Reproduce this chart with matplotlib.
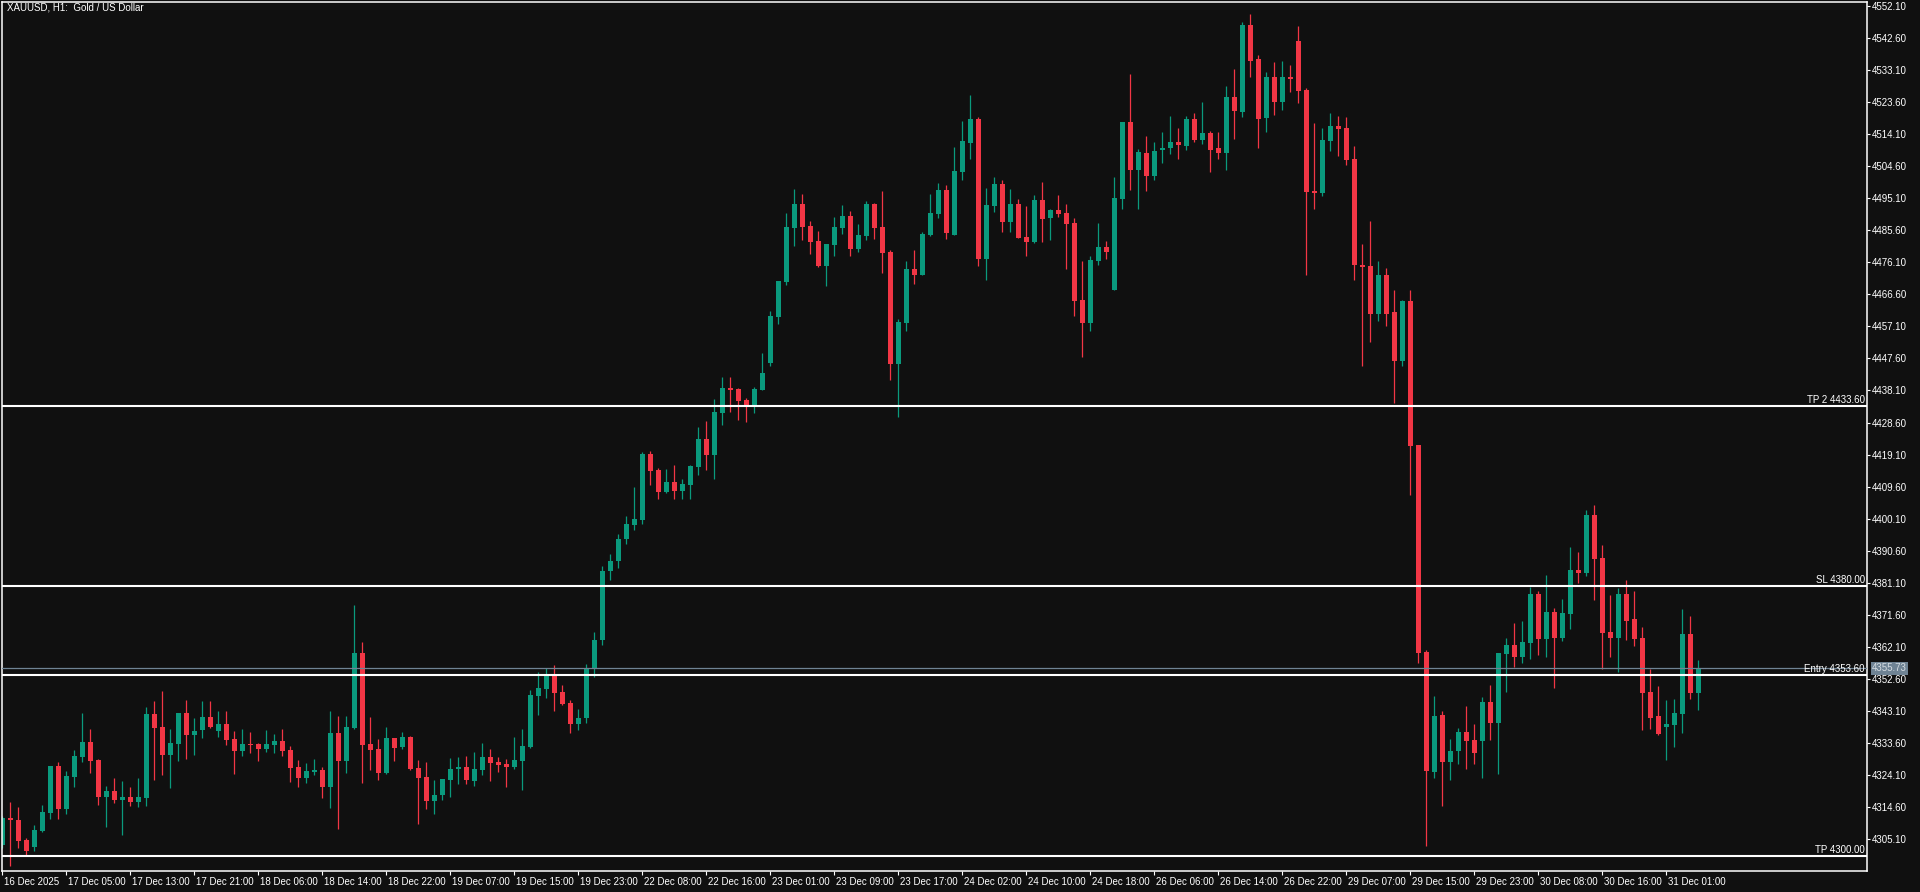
import matplotlib
matplotlib.use("Agg")
from matplotlib import pyplot as plt
from matplotlib.transforms import ScaledTranslation, blended_transform_factory
import numpy as np

# XAUUSD H1 candles (16 Dec 2025 - 31 Dec 2025)
opens = [
	4303.3, 4311.3, 4310.7, 4304.8, 4302.7, 4307.5, 4312.8, 4326.8, 4314.0, 4323.5,
	4329.4, 4333.9, 4328.5, 4317.6, 4319.3, 4316.7, 4317.6, 4316.1, 4317.3, 4342.2,
	4338.3, 4330.0, 4333.3, 4342.5, 4335.9, 4337.4, 4341.3, 4337.1, 4339.2, 4334.8,
	4331.2, 4333.3, 4333.3, 4331.8, 4333.0, 4334.2, 4331.5, 4326.5, 4323.2, 4324.9,
	4325.6, 4320.5, 4336.5, 4328.2, 4338.0, 4360.3, 4333.3, 4331.8, 4324.7, 4335.1,
	4332.4, 4335.4, 4326.2, 4323.5, 4316.4, 4318.0, 4322.6, 4325.9, 4326.5, 4322.3,
	4325.6, 4329.4, 4328.0, 4327.4, 4326.5, 4328.3, 4332.4, 4347.5, 4349.6, 4353.5,
	4348.7, 4345.4, 4339.2, 4341.0, 4355.5, 4364.0, 4384.5, 4387.5, 4394.0, 4398.2,
	4399.7, 4419.3, 4414.5, 4408.0, 4411.0, 4408.3, 4410.1, 4415.4, 4423.7, 4419.0,
	4431.4, 4438.8, 4438.5, 4435.3, 4433.8, 4438.2, 4446.3, 4459.9, 4470.3, 4486.3,
	4493.4, 4486.9, 4482.4, 4475.0, 4481.2, 4486.3, 4489.8, 4480.0, 4483.9, 4493.4,
	4486.6, 4479.2, 4446.0, 4458.1, 4474.1, 4472.4, 4484.2, 4490.4, 4497.5, 4484.2,
	4502.9, 4511.5, 4518.6, 4477.1, 4492.8, 4499.3, 4488.1, 4493.4, 4483.6, 4482.1,
	4494.6, 4489.3, 4491.6, 4490.7, 4487.8, 4464.9, 4458.1, 4476.5, 4480.7, 4467.9,
	4494.9, 4517.7, 4503.5, 4508.6, 4501.8, 4509.5, 4509.9, 4511.9, 4510.7, 4518.7,
	4512.5, 4514.5, 4509.9, 4508.6, 4525.1, 4520.7, 4546.5, 4536.5, 4518.9, 4531.1,
	4523.7, 4531.1, 4541.7, 4527.3, 4497.4, 4496.8, 4512.2, 4516.6, 4515.8, 4506.6,
	4475.2, 4474.9, 4460.9, 4472.3, 4461.3, 4446.8, 4464.6, 4421.9, 4360.6, 4325.0,
	4341.9, 4327.9, 4331.2, 4336.9, 4334.5, 4334.2, 4345.7, 4339.5, 4360.0, 4362.6,
	4359.1, 4363.2, 4377.8, 4364.4, 4372.4, 4364.7, 4371.8, 4384.9, 4384.0, 4401.2,
	4388.4, 4366.5, 4364.7, 4377.8, 4370.4, 4364.7, 4348.7, 4341.6, 4338.2, 4338.9,
	4342.2, 4365.9, 4348.4,
]
highs = [
	4312.0, 4316.1, 4314.6, 4305.4, 4309.3, 4315.2, 4326.8, 4327.9, 4325.3, 4331.5,
	4342.5, 4337.7, 4328.8, 4320.8, 4323.2, 4322.3, 4320.5, 4323.2, 4344.3, 4346.0,
	4349.0, 4337.7, 4342.5, 4346.3, 4341.0, 4346.0, 4346.0, 4343.1, 4343.1, 4337.1,
	4337.7, 4336.8, 4333.6, 4337.4, 4336.2, 4337.7, 4332.7, 4328.6, 4327.7, 4328.9,
	4326.5, 4343.1, 4341.6, 4341.6, 4374.5, 4363.5, 4341.3, 4334.8, 4338.3, 4335.1,
	4336.8, 4335.7, 4328.6, 4328.0, 4322.6, 4322.9, 4329.2, 4329.5, 4329.7, 4330.9,
	4333.6, 4331.8, 4329.4, 4328.9, 4335.4, 4337.7, 4349.3, 4354.6, 4355.8, 4356.7,
	4350.8, 4346.3, 4343.5, 4357.0, 4366.5, 4386.0, 4389.5, 4395.5, 4400.9, 4409.5,
	4419.9, 4420.2, 4415.1, 4414.8, 4416.0, 4411.9, 4416.0, 4427.3, 4429.1, 4435.6,
	4442.1, 4442.1, 4438.8, 4435.9, 4439.1, 4449.2, 4461.7, 4470.6, 4490.7, 4497.8,
	4496.4, 4488.4, 4485.4, 4481.5, 4489.5, 4493.1, 4491.3, 4487.5, 4494.3, 4493.7,
	4497.3, 4479.8, 4459.3, 4476.5, 4479.8, 4485.1, 4496.4, 4499.6, 4499.0, 4510.3,
	4518.0, 4525.7, 4519.2, 4498.1, 4501.4, 4500.5, 4497.8, 4494.9, 4492.8, 4496.1,
	4499.9, 4491.9, 4496.1, 4493.4, 4489.3, 4476.5, 4478.0, 4487.8, 4482.4, 4501.4,
	4517.7, 4532.0, 4509.7, 4513.7, 4511.9, 4514.8, 4519.6, 4515.8, 4519.6, 4520.4,
	4523.7, 4515.1, 4514.8, 4528.4, 4533.5, 4547.3, 4549.8, 4537.5, 4532.5, 4535.5,
	4535.8, 4534.7, 4546.2, 4527.8, 4517.4, 4515.8, 4520.4, 4519.6, 4519.2, 4510.7,
	4481.6, 4488.5, 4476.4, 4474.4, 4467.8, 4464.9, 4467.8, 4421.9, 4361.0, 4347.5,
	4343.1, 4334.8, 4338.0, 4344.5, 4339.2, 4347.2, 4350.8, 4360.3, 4364.7, 4369.2,
	4369.8, 4379.8, 4378.7, 4383.4, 4373.6, 4376.3, 4391.7, 4390.2, 4402.7, 4404.1,
	4392.3, 4377.5, 4379.5, 4381.9, 4378.6, 4368.0, 4355.5, 4350.5, 4346.3, 4346.6,
	4373.3, 4371.2, 4358.2,
]
lows = [
	4302.5, 4297.2, 4302.5, 4300.4, 4301.4, 4307.2, 4311.0, 4311.0, 4312.5, 4320.5,
	4327.9, 4324.7, 4315.2, 4308.7, 4315.8, 4306.3, 4314.9, 4314.6, 4314.9, 4322.6,
	4324.1, 4320.2, 4328.2, 4328.8, 4330.0, 4335.1, 4338.0, 4335.4, 4333.0, 4324.4,
	4329.7, 4330.6, 4328.2, 4330.9, 4330.6, 4329.7, 4322.0, 4320.5, 4321.7, 4324.1,
	4317.3, 4314.3, 4308.0, 4324.7, 4337.7, 4321.7, 4325.6, 4322.6, 4324.4, 4328.2,
	4331.8, 4325.6, 4309.5, 4314.0, 4312.5, 4316.7, 4317.6, 4321.4, 4321.4, 4320.8,
	4324.1, 4322.3, 4325.0, 4320.5, 4325.9, 4319.7, 4332.1, 4341.9, 4346.9, 4343.1,
	4344.9, 4336.5, 4337.5, 4339.5, 4353.0, 4362.5, 4382.0, 4385.5, 4392.5, 4396.7,
	4398.5, 4410.1, 4406.0, 4407.7, 4406.0, 4406.0, 4406.0, 4413.1, 4414.5, 4411.9,
	4427.9, 4431.7, 4429.4, 4428.8, 4431.4, 4438.2, 4445.4, 4457.8, 4469.4, 4480.9,
	4482.7, 4478.6, 4474.7, 4469.1, 4478.0, 4484.5, 4478.0, 4479.1, 4482.7, 4483.0,
	4472.9, 4441.2, 4430.3, 4455.8, 4469.7, 4472.4, 4483.9, 4489.3, 4483.0, 4484.2,
	4500.5, 4506.7, 4475.0, 4470.9, 4491.0, 4485.1, 4485.1, 4483.3, 4478.0, 4481.8,
	4482.1, 4482.7, 4489.5, 4474.1, 4460.2, 4448.0, 4455.8, 4475.3, 4477.1, 4467.9,
	4491.9, 4497.6, 4491.9, 4497.4, 4500.4, 4505.6, 4508.2, 4506.8, 4509.5, 4511.9,
	4511.2, 4503.0, 4506.6, 4503.6, 4512.7, 4519.2, 4531.2, 4509.9, 4514.8, 4519.9,
	4521.4, 4526.6, 4523.3, 4472.4, 4492.0, 4495.9, 4509.2, 4507.7, 4505.1, 4471.0,
	4445.5, 4452.4, 4458.8, 4457.2, 4434.3, 4445.5, 4407.1, 4357.2, 4303.0, 4323.2,
	4314.9, 4322.6, 4327.4, 4325.9, 4327.4, 4323.2, 4334.5, 4324.4, 4348.7, 4356.1,
	4357.3, 4358.5, 4359.7, 4359.1, 4349.9, 4363.8, 4367.4, 4381.0, 4383.1, 4376.0,
	4355.5, 4359.1, 4354.6, 4364.1, 4362.3, 4337.4, 4337.7, 4336.0, 4328.5, 4332.4,
	4336.5, 4346.6, 4343.4,
]
closes = [
	4311.3, 4310.6, 4304.5, 4301.6, 4307.8, 4313.1, 4326.8, 4314.0, 4323.8, 4329.7,
	4333.9, 4328.2, 4317.6, 4319.3, 4316.7, 4317.6, 4316.1, 4317.6, 4342.2, 4338.0,
	4330.0, 4333.6, 4342.5, 4335.9, 4337.1, 4341.3, 4338.3, 4339.2, 4334.5, 4331.2,
	4333.3, 4333.0, 4331.8, 4333.3, 4334.2, 4331.2, 4326.2, 4323.2, 4325.3, 4325.6,
	4320.5, 4336.5, 4328.2, 4338.3, 4360.3, 4333.0, 4331.5, 4324.7, 4335.1, 4332.1,
	4335.4, 4325.9, 4323.2, 4316.4, 4318.2, 4322.9, 4325.9, 4326.5, 4322.6, 4325.9,
	4329.4, 4327.7, 4327.1, 4326.5, 4328.6, 4332.7, 4347.8, 4349.9, 4353.5, 4348.4,
	4345.2, 4339.2, 4341.0, 4355.5, 4364.0, 4384.5, 4387.5, 4394.0, 4398.5, 4400.0,
	4419.3, 4414.2, 4408.0, 4411.0, 4408.3, 4410.4, 4415.7, 4423.7, 4419.0, 4431.7,
	4438.8, 4438.2, 4435.0, 4433.8, 4438.5, 4443.3, 4460.2, 4470.6, 4486.6, 4493.4,
	4486.6, 4482.1, 4475.0, 4481.5, 4486.6, 4489.8, 4480.0, 4484.2, 4493.4, 4486.3,
	4478.9, 4446.0, 4458.4, 4474.1, 4472.4, 4484.5, 4490.7, 4497.5, 4484.8, 4503.2,
	4512.1, 4518.6, 4477.1, 4493.1, 4499.3, 4488.1, 4493.4, 4483.3, 4482.1, 4494.6,
	4488.9, 4491.6, 4490.4, 4487.5, 4464.6, 4458.1, 4476.8, 4480.7, 4479.2, 4495.2,
	4517.7, 4503.5, 4508.8, 4501.8, 4509.2, 4510.0, 4511.9, 4510.9, 4518.7, 4512.5,
	4514.5, 4509.5, 4508.6, 4525.1, 4521.0, 4546.5, 4535.8, 4518.7, 4531.1, 4523.7,
	4531.1, 4530.6, 4527.0, 4497.1, 4496.8, 4512.5, 4516.6, 4515.6, 4506.3, 4475.2,
	4474.7, 4460.9, 4472.3, 4460.9, 4446.8, 4464.6, 4421.7, 4360.3, 4325.3, 4341.6,
	4327.9, 4331.2, 4336.9, 4334.2, 4330.6, 4345.7, 4339.5, 4360.3, 4362.6, 4359.1,
	4363.5, 4377.8, 4364.4, 4372.4, 4364.7, 4372.1, 4384.9, 4384.0, 4401.2, 4388.1,
	4366.2, 4364.7, 4377.8, 4369.8, 4364.4, 4348.4, 4341.0, 4336.3, 4339.2, 4342.5,
	4365.9, 4348.4, 4355.73,
]

time_labels = [
	"16 Dec 2025", "17 Dec 05:00", "17 Dec 13:00", "17 Dec 21:00", "18 Dec 06:00",
	"18 Dec 14:00", "18 Dec 22:00", "19 Dec 07:00", "19 Dec 15:00", "19 Dec 23:00",
	"22 Dec 08:00", "22 Dec 16:00", "23 Dec 01:00", "23 Dec 09:00", "23 Dec 17:00",
	"24 Dec 02:00", "24 Dec 10:00", "24 Dec 18:00", "26 Dec 06:00", "26 Dec 14:00",
	"26 Dec 22:00", "29 Dec 07:00", "29 Dec 15:00", "29 Dec 23:00", "30 Dec 08:00",
	"30 Dec 16:00", "31 Dec 01:00",
]
price_ticks = [
	4305.10, 4314.60, 4324.10, 4333.60, 4343.10, 4352.60, 4362.10, 4371.60, 4381.10,
	4390.60, 4400.10, 4409.60, 4419.10, 4428.60, 4438.10, 4447.60, 4457.10, 4466.60,
	4476.10, 4485.60, 4495.10, 4504.60, 4514.10, 4523.60, 4533.10, 4542.60, 4552.10,
]
level_names = ["TP 2", "SL", "Entry", "TP"]
level_prices = [4433.60, 4380.00, 4353.60, 4300.00]
last_price = 4355.73

BG = "#101010"
GREEN = "#0a9a7d"
RED = "#f23645"
PRICE_GREY = "#6f8394"

plt.rcParams["font.family"] = ["Liberation Sans", "DejaVu Sans"]

o = np.array(opens)
h = np.array(highs)
l = np.array(lows)
c = np.array(closes)
x = np.arange(len(o))

fig = plt.figure(figsize=(19.2, 8.92), dpi=100, facecolor=BG)
ax = fig.add_axes([2 / 1920, 21 / 892, 1865 / 1920, 869 / 892])
ax.set_facecolor(BG)

# candles
colors = np.where(c >= o, GREEN, RED)
ax.vlines(x, l, h, colors=colors, linewidth=0.9, zorder=2)
body_low = np.minimum(o, c)
body_h = np.maximum(np.abs(c - o), 0.35)
ax.bar(x, body_h, bottom=body_low, width=0.625, color=colors, linewidth=0, zorder=2)

# trade levels
trans = blended_transform_factory(ax.transAxes, ax.transData)
ax.axhline(last_price, color=PRICE_GREY, linewidth=0.9, zorder=3)
for name, price in zip(level_names, level_prices):
	ax.axhline(price, color="white", linewidth=1.5, zorder=4)
	ax.annotate(f"{name} {price:.2f}", xy=(1, price), xycoords=trans,
		xytext=(-2, 1), textcoords="offset pixels",
		ha="right", va="bottom", color="white", fontsize=7, zorder=5)

# current price box on the price scale
ax.annotate(f"{last_price:.2f}", xy=(1, last_price), xycoords=trans,
	xytext=(5, 0), textcoords="offset pixels", ha="left", va="center",
	color="#d5dce2", fontsize=7, annotation_clip=False, zorder=6,
	bbox=dict(boxstyle="square,pad=0.15", fc=PRICE_GREY, ec="none"))

ax.set_xlim(-0.06, -0.06 + 1865 / 8)
ax.set_ylim(4295.6, 4553.3)

# axes and ticks
ax.yaxis.tick_right()
ax.set_yticks(price_ticks)
ax.set_yticklabels([f"{p:.2f}" for p in price_ticks])
ax.set_xticks(np.arange(len(time_labels)) * 8)
ax.set_xticklabels(time_labels)
ax.tick_params(axis="y", direction="out", length=2, width=0.8, colors="white",
	labelsize=7, pad=1.5)
ax.tick_params(axis="x", direction="out", length=3, width=0.8, colors="white",
	labelsize=7, pad=1.5)
offset = ScaledTranslation(2 / 100, 0, fig.dpi_scale_trans)
for lab in ax.get_xticklabels():
	lab.set_horizontalalignment("left")
	lab.set_transform(lab.get_transform() + offset)
for sp in ax.spines.values():
	sp.set_color("white")
	sp.set_linewidth(1.1)

fig.text(7 / 1920, 1 - 3 / 892, "XAUUSD, H1:  Gold / US Dollar", color="white",
	fontsize=7, ha="left", va="top")

fig.savefig("out.png", dpi=100, facecolor=BG)
